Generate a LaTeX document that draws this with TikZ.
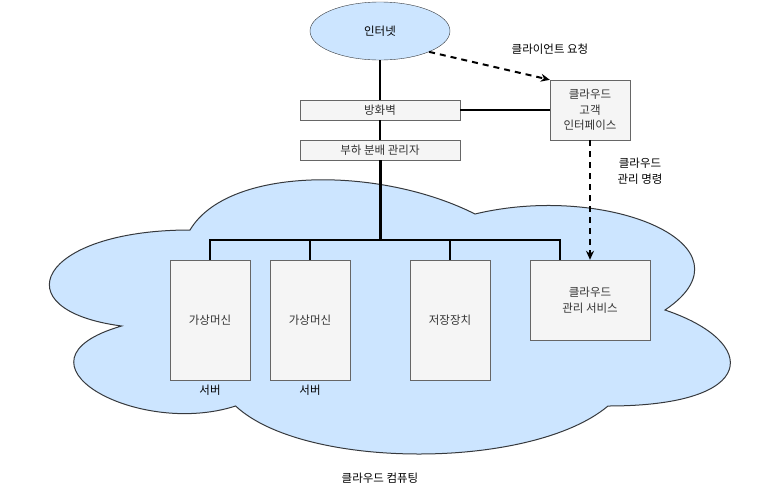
\documentclass[tikz,border=0pt]{standalone}
\usepackage{fontspec}
\usepackage{tikz}
\usetikzlibrary{shapes.geometric,arrows.meta}
\newfontfamily\krfont{Noto Sans CJK KR}
\definecolor{skyfill}{HTML}{CCE5FF}
\definecolor{inkline}{HTML}{36393D}
\definecolor{boxfill}{HTML}{F5F5F5}
\definecolor{boxline}{HTML}{666666}
\definecolor{boxtext}{HTML}{333333}
\tikzset{
	panel/.style  = {shape=rectangle, draw=boxline, fill=boxfill,
		text=boxtext, align=center, inner sep=0pt},
	bar/.style    = {panel, minimum width=160pt, minimum height=20pt},
	server/.style = {panel, minimum width=80pt, minimum height=120pt},
	portal/.style = {panel, minimum width=80pt, minimum height=60pt},
	net/.style    = {ellipse, draw=inkline, fill=skyfill, inner sep=0pt,
		minimum width=140pt, minimum height=58pt},
	note/.style   = {align=center, text=black}
}

\begin{document}
\begin{tikzpicture}
[
x                  = 1pt,
y                  = -1pt,
every node/.style  = {font=\krfont\fontsize{11.5}{15.5}\selectfont},
wire/.style        = {draw, line width=2pt},
trunk/.style       = {draw, line width=3pt},
request/.style     = {draw, line width=2pt, dash pattern=on 6pt off 5pt,
	-{Stealth[length=9pt,width=8pt]}}
]
\useasboundingbox (0,0) rectangle (761,491);
\filldraw [fill=skyfill, draw=inkline, line width=1pt]
	(190,230) .. controls (38,230) and (0,310) .. (121.6,326)
	.. controls (0,361.2) and (136.8,438) .. (235.6,406)
	.. controls (304,470) and (532,470) .. (608,406)
	.. controls (760,406) and (760,342) .. (665,310)
	.. controls (760,246) and (608,182) .. (475,214)
	.. controls (380,166) and (228,166) .. (190,230) -- cycle;
\node [net] (inet) at (380,31) {인터넷};
\node [bar] (fw) at (380,110) {방화벽};
\node [bar] (lb) at (380,150) {부하 분배 관리자};
\node [portal] (cif) at (590,110) {클라우드\\고객\\인터페이스};
\node [server] (vm1) at (210,320) {가상머신};
\node [server] (vm2) at (310,320) {가상머신};
\node [server] (stor) at (450,320) {저장장치};
\node [panel, minimum width=120pt, minimum height=80pt] (mgmt) at (590,300)
	{클라우드\\관리 서비스};
\node [note] (srv1) at (210,390) {서버};
\node [note] (srv2) at (310,390) {서버};
\node [note] (reqlbl) at (550,49) {클라이언트 요청};
\node [note] (cmdlbl) at (640,171) {클라우드\\관리 명령};
\node [note] (cloudlbl) at (380,478) {클라우드 컴퓨팅};
\coordinate (bus) at (380,240);
\draw [wire] (inet) -- (fw);
\draw [wire] (fw) -- (lb);
\draw [trunk] (lb) -- (bus);
\draw [wire] (vm1.north) |- (bus);
\draw [wire] (vm2.north) |- (bus);
\draw [wire] (stor.north) |- (bus);
\draw [wire] ([xshift=30pt]mgmt.north west) |- (bus);
\draw [wire] (fw) -- (cif);
\draw [request] (inet.-23) -- (cif.north west);
\draw [request] (cif) -- (mgmt);
\end{tikzpicture}
\end{document}
